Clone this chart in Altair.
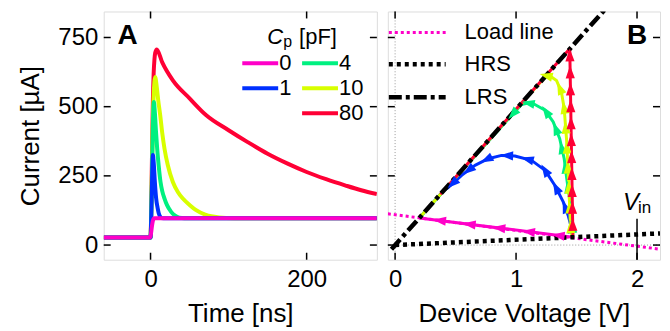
import math
import altair as alt
import pandas as pd

FONT = "Liberation Sans"

# ---------------- data ----------------
CP_LABELS = ["0", "1", "4", "10", "80"]
COLORS = ["#ff00c8", "#0030ff", "#00f080", "#d8ff00", "#ff0035"]

# Panel A: time [ns] and current [uA] per C_p
T_CP0 = [-60, -1, 0, 1, 2, 3, 4, 5, 290]
I_CP0 = [27, 27, 32, 50, 72, 88, 95, 97, 97]
T_CP1 = [-60, 0, 1, 2, 3, 4, 5.5, 7.2, 9, 10.6, 12, 13.6, 20, 290]
I_CP1 = [27, 27, 110, 240, 325, 300, 230, 168, 135, 114, 104, 98, 97, 97]
T_CP4 = [-60, 0, 1, 2, 3, 4.3, 5.5, 7, 8.5, 10.5, 12.8, 15, 17.9, 21, 26.4, 31, 37, 50, 290]
I_CP4 = [27, 27, 120, 280, 430, 517, 480, 410, 348, 285, 228, 195, 168, 145, 120, 107, 99, 97, 97]
T_CP10 = [-60, 0, 1, 2, 3, 4, 5, 6, 8, 10, 12.4, 15, 17.9, 22, 28.6, 35, 41.4, 50, 58.4, 70, 80, 97, 120, 290]
I_CP10 = [27, 27, 130, 300, 450, 540, 590, 607, 570, 520, 469, 405, 348, 290, 228, 192, 168, 145, 126, 110, 103, 98, 97, 97]
T_CP80 = [-60, 0, 1, 2, 3, 4, 5, 6, 8, 15, 28.6, 50, 71, 100, 124.5, 150, 175, 200, 225, 250, 270, 290]
I_CP80 = [27, 27, 150, 350, 520, 620, 670, 695, 707, 660, 595, 530, 470, 415, 372, 330, 295, 264, 238, 215, 198, 184]

# Panel B: device voltage [V] and current [uA]
V_LOAD = [-0.06, 2.19]
I_LOAD = [113, -15]
V_HRS = [0.0, 2.19]
I_HRS = [0, 42]
V_LRS = [-0.03, 1.74]
I_LRS = [-15, 854]

V_TR0 = [1.47, 0.2]
I_TR0 = [28, 98]
V_TR1 = [1.47, 1.452, 1.43, 1.39, 1.32, 1.24, 1.128, 0.99, 0.88, 0.77, 0.66, 0.55, 0.44, 0.40, 0.2]
I_TR1 = [28, 72, 108, 156, 216, 270, 306, 322, 324, 312, 288, 252, 208, 196, 98]
V_TR4 = [1.47, 1.464, 1.446, 1.419, 1.398, 1.361, 1.307, 1.24, 1.155, 1.10, 1.045, 0.2]
I_TR4 = [28, 72, 156, 240, 312, 384, 445, 487, 508, 513, 508, 98]
V_TR10 = [1.47, 1.452, 1.431, 1.417, 1.398, 1.375, 1.334, 1.293, 1.25, 0.2]
I_TR10 = [28, 48, 264, 384, 493, 553, 595, 607, 612, 98]
V_TR80 = [1.47, 1.444, 0.375]
I_TR80 = [28, 709, 184]

X_TICKS_A = [0, 200]
X_TICKS_B = [0, 1, 2]
Y_TICKS = [0, 250, 500, 750]
V_IN = 2.0

# ---------------- layout / style ----------------
WA, WB, H = 274, 273, 249
XA_DOM = [-60, 290]
XB_DOM = [-0.06, 2.19]
Y_DOM = [-53, 844]
TICK = 7

SERIES_A = [(T_CP0, I_CP0), (T_CP1, I_CP1), (T_CP4, I_CP4), (T_CP10, I_CP10), (T_CP80, I_CP80)]
SERIES_B = [(V_TR0, I_TR0), (V_TR1, I_TR1), (V_TR4, I_TR4), (V_TR10, I_TR10), (V_TR80, I_TR80)]
JOIN = [1, 13, 10, 8, 1]          # index where the path reaches the LRS line
EXTRA = [0, 6, 14, 10, 0]         # px of arrows allowed past the join
SPACING = [30, 21, 20, 20, 17]
FIRST = [14, 10, 10, 10, 12]

xA = alt.Scale(domain=XA_DOM, nice=False, zero=False)
xB = alt.Scale(domain=XB_DOM, nice=False, zero=False)
yS = alt.Scale(domain=Y_DOM, nice=False, zero=False)

AX_XA = alt.Axis(values=X_TICKS_A, ticks=False, domain=False, grid=False, title="Time [ns]",
                 labelPadding=8, titlePadding=9, labelFontSize=24, titleFontSize=26,
                 titleFontWeight="normal", labelColor="black", titleColor="black",
                 labelFont=FONT, titleFont=FONT, labelFlush=False)
AX_XB = alt.Axis(values=X_TICKS_B, ticks=False, domain=False, grid=False, title="Device Voltage [V]",
                 labelPadding=8, titlePadding=9, labelFontSize=24, titleFontSize=26,
                 titleFontWeight="normal", labelColor="black", titleColor="black",
                 labelFont=FONT, titleFont=FONT, labelFlush=False)
AX_YA = alt.Axis(values=Y_TICKS, ticks=False, domain=False, grid=False, title="Current [µA]",
                 labelPadding=6, titlePadding=14, labelFontSize=24, titleFontSize=26,
                 titleFontWeight="normal", labelColor="black", titleColor="black",
                 labelFont=FONT, titleFont=FONT, labelFlush=False)

one = pd.DataFrame({"k": [0]})


def tick_layers(xticks, xscale, xaxis, yaxis, w):
    dx = pd.DataFrame({"x": xticks})
    dy = pd.DataFrame({"y": Y_TICKS})
    base = dict(color="black", strokeWidth=1.5)
    return [
        alt.Chart(dx).mark_rule(**base).encode(x=alt.X("x:Q", scale=xscale, axis=xaxis),
                                               y=alt.value(H), y2=alt.value(H - TICK)),
        alt.Chart(dx).mark_rule(**base).encode(x=alt.X("x:Q", scale=xscale, axis=xaxis),
                                               y=alt.value(0), y2=alt.value(TICK)),
        alt.Chart(dy).mark_rule(**base).encode(y=alt.Y("y:Q", scale=yS, axis=yaxis),
                                               x=alt.value(0), x2=alt.value(TICK)),
        alt.Chart(dy).mark_rule(**base).encode(y=alt.Y("y:Q", scale=yS, axis=yaxis),
                                               x=alt.value(w), x2=alt.value(w - TICK)),
    ]


def text_layer(txt, x, y, size, style="normal", weight="normal", align="left", baseline="alphabetic"):
    return alt.Chart(one).mark_text(text=txt, font=FONT, fontSize=size, fontStyle=style,
                                    fontWeight=weight, align=align, baseline=baseline,
                                    color="black").encode(x=alt.value(x), y=alt.value(y))


# ---------------- panel A ----------------
layersA = []
for idx in [4, 3, 2, 1, 0]:
    t, cur = SERIES_A[idx]
    df = pd.DataFrame({"x": t, "y": cur})
    layersA.append(alt.Chart(df).mark_line(color=COLORS[idx], strokeWidth=4, interpolate="monotone",
                                           clip=True, strokeJoin="round")
                   .encode(x=alt.X("x:Q", scale=xA, axis=AX_XA), y=alt.Y("y:Q", scale=yS, axis=AX_YA)))
layersA += tick_layers(X_TICKS_A, xA, AX_XA, AX_YA, WA)

# legend for C_p (custom, two columns)
leg_pos = [(0, 0), (0, 1), (1, 0), (1, 1), (1, 2)]
for idx, lab in enumerate(CP_LABELS):
    col, row = leg_pos[idx]
    x0 = 139 + col * 60
    yy = 52 + row * 25
    layersA.append(alt.Chart(one).mark_rule(color=COLORS[idx], strokeWidth=4)
                   .encode(x=alt.value(x0), x2=alt.value(x0 + 36), y=alt.value(yy)))
    layersA.append(text_layer(lab, x0 + 37, yy, 22, baseline="middle"))
layersA.append(text_layer("C", 164, 33, 22, style="italic"))
layersA.append(text_layer("p", 180, 36, 16))
layersA.append(text_layer("[pF]", 196, 33, 22))
layersA.append(text_layer("A", 24, 25, 28, weight="bold", align="center", baseline="middle"))

panelA = alt.layer(*layersA).properties(width=WA, height=H)

# ---------------- panel B ----------------
kx = WB / (XB_DOM[1] - XB_DOM[0])
ky = H / (Y_DOM[1] - Y_DOM[0])


def arrows(vs, cs, join, extra, spacing, first):
    pts = [(v * kx, -c * ky) for v, c in zip(vs, cs)]
    seg = [math.hypot(pts[k + 1][0] - pts[k][0], pts[k + 1][1] - pts[k][1]) for k in range(len(pts) - 1)]
    limit = sum(seg[:join]) + extra
    rows = []
    s = first
    acc = 0.0
    for k, L in enumerate(seg):
        while s <= acc + L and s <= limit:
            f = (s - acc) / L
            ang = math.degrees(math.atan2(pts[k + 1][0] - pts[k][0], -(pts[k + 1][1] - pts[k][1]))) % 360
            rows.append({"x": vs[k] + f * (vs[k + 1] - vs[k]), "y": cs[k] + f * (cs[k + 1] - cs[k]), "a": ang})
            s += spacing
        acc += L
    return pd.DataFrame(rows)


ARROW = "M0,-1L0.62,0.75L-0.62,0.75Z"

layersB = []
# thin zero guides
layersB.append(alt.Chart(pd.DataFrame({"x": [0]})).mark_rule(color="#999", strokeWidth=1, strokeDash=[1, 2])
               .encode(x=alt.X("x:Q", scale=xB, axis=AX_XB)))
layersB.append(alt.Chart(pd.DataFrame({"y": [0]})).mark_rule(color="#999", strokeWidth=1, strokeDash=[1, 2])
               .encode(y=alt.Y("y:Q", scale=yS, axis=None)))

for idx in range(5):
    vs, cs = SERIES_B[idx]
    df = pd.DataFrame({"x": vs, "y": cs, "o": list(range(len(vs)))})
    layersB.append(alt.Chart(df).mark_line(color=COLORS[idx], strokeWidth=3, clip=True, strokeJoin="round")
                   .encode(x=alt.X("x:Q", scale=xB, axis=AX_XB), y=alt.Y("y:Q", scale=yS, axis=None),
                           order="o:Q"))

for vs, cs, dash, col, w in [(V_LOAD, I_LOAD, [3, 3], COLORS[0], 3),
                             (V_HRS, I_HRS, [4, 4], "black", 4.5),
                             (V_LRS, I_LRS, [13, 4, 4, 4], "black", 4.5)]:
    df = pd.DataFrame({"x": vs, "y": cs})
    layersB.append(alt.Chart(df).mark_line(color=col, strokeWidth=w, strokeDash=dash, clip=True,
                                           strokeCap="butt")
                   .encode(x=alt.X("x:Q", scale=xB, axis=AX_XB), y=alt.Y("y:Q", scale=yS, axis=None)))

for idx in range(5):
    vs, cs = SERIES_B[idx]
    adf = arrows(vs, cs, JOIN[idx], EXTRA[idx], SPACING[idx], FIRST[idx])
    layersB.append(alt.Chart(adf).mark_point(shape=ARROW, filled=True, size=220, color=COLORS[idx],
                                             opacity=1, strokeWidth=0)
                   .encode(x=alt.X("x:Q", scale=xB, axis=AX_XB), y=alt.Y("y:Q", scale=yS, axis=None),
                           angle=alt.Angle("a:Q", scale=None)))

# V_in marker
layersB.append(alt.Chart(pd.DataFrame({"x": [V_IN], "y": [Y_DOM[0]], "y2": [I_TR0[1] - 3]}))
               .mark_rule(color="black", strokeWidth=1.5)
               .encode(x=alt.X("x:Q", scale=xB, axis=AX_XB), y=alt.Y("y:Q", scale=yS, axis=None), y2="y2:Q"))
layersB += tick_layers(X_TICKS_B, xB, AX_XB, None, WB)

# legend B
for lab, dash, col, w, yy in [("Load line", [3, 3], COLORS[0], 3, 21),
                              ("HRS", [4, 4], "black", 4.5, 53),
                              ("LRS", [13, 4, 4, 4], "black", 4.5, 86)]:
    layersB.append(alt.Chart(one).mark_rule(color=col, strokeWidth=w, strokeDash=dash, strokeCap="butt")
                   .encode(x=alt.value(1), x2=alt.value(58), y=alt.value(yy)))
    layersB.append(text_layer(lab, 77, yy, 22, baseline="middle"))

layersB.append(text_layer("B", 250, 25, 28, weight="bold", align="center", baseline="middle"))
layersB.append(text_layer("V", 236, 199, 24, style="italic"))
layersB.append(text_layer("in", 251, 202, 17))

panelB = alt.layer(*layersB).properties(width=WB, height=H)

chart = (alt.hconcat(panelA, panelB, spacing=7)
         .properties(padding={"left": 9, "top": 1, "right": 0, "bottom": 0})
         .configure_view(stroke="black", strokeWidth=2)
         .configure(font=FONT))

chart.save("out.html", embed_options={"renderer": "svg", "actions": False})
